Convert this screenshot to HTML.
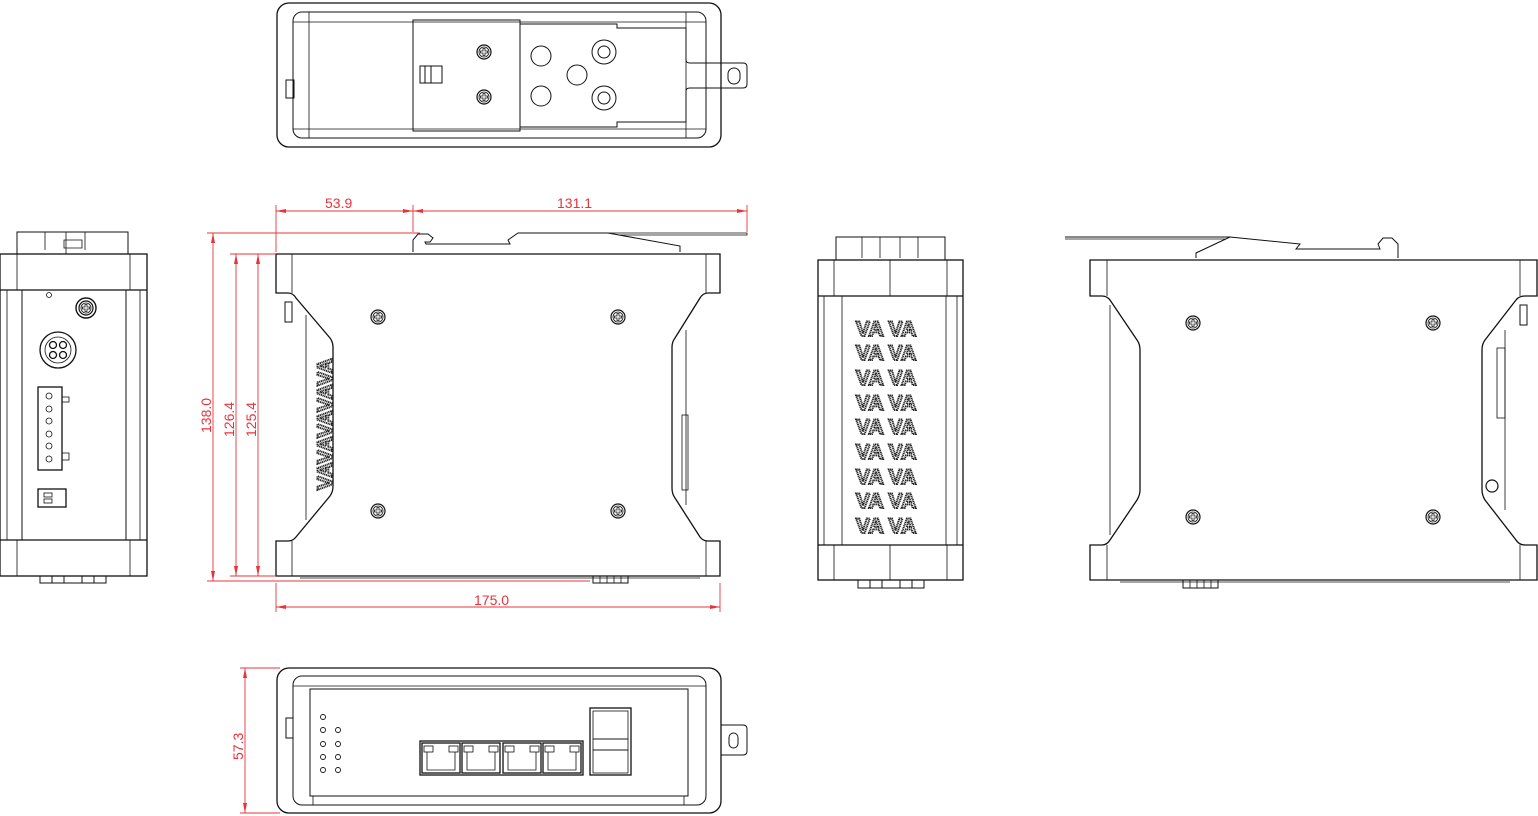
<!DOCTYPE html>
<html><head><meta charset="utf-8"><style>
html,body{margin:0;padding:0;background:#fff;}
svg{display:block;}
text{font-family:"Liberation Sans",sans-serif;}
</style></head><body>
<svg width="1538" height="816" viewBox="0 0 1538 816" xmlns="http://www.w3.org/2000/svg">
<defs>
<g id="screw"><circle r="7" fill="none" stroke="#111" stroke-width="1.2"/><circle r="5" fill="none" stroke="#111" stroke-width="0.8"/><path d="M-3.5 -1 H-1 V-3.5 H1 V-1 H3.5 V1 H1 V3.5 H-1 V1 H-3.5Z" fill="none" stroke="#111" stroke-width="0.8"/></g>
<g id="rj"><rect x="0" y="0" width="38" height="30" fill="none" stroke="#111"/><rect x="2" y="3" width="9" height="6" fill="none" stroke="#111" stroke-width="0.8"/><rect x="27" y="3" width="9" height="6" fill="none" stroke="#111" stroke-width="0.8"/><path d="M5 9 V27 H33 V9" fill="none" stroke="#111" stroke-width="0.8"/></g>
</defs>
<g fill="none" stroke="#111" stroke-width="1.3">

<!-- TOP VIEW -->
<rect x="277" y="3" width="444" height="144" rx="12"/>
<rect x="293" y="12" width="413" height="126" rx="9" stroke-width="1"/>
<line x1="309" y1="12" x2="309" y2="138" stroke-width="0.8"/>
<line x1="686" y1="12" x2="686" y2="138" stroke-width="0.8"/>
<line x1="293" y1="22" x2="706" y2="22" stroke-width="0.8"/>
<line x1="293" y1="129" x2="706" y2="129" stroke-width="0.8"/>
<rect x="413" y="20" width="107" height="111" stroke-width="1"/>
<path d="M520 24 H617 V28 H686 V60 Q686 63 690 63 H743 Q747 63 747 67 V84 Q747 88 743 88 H690 Q686 88 686 91 V122 H617 V127 H520" stroke-width="1"/>
<rect x="728" y="68" width="12" height="16" rx="6" stroke-width="1"/>
<path d="M420 66 H442 V83 H420 Z M425 66 V83 M431 66 V83" stroke-width="1"/>
<use href="#screw" x="484" y="52"/><use href="#screw" x="484" y="97"/>
<circle cx="541" cy="56" r="10" stroke-width="1"/><circle cx="541" cy="96" r="10" stroke-width="1"/><circle cx="577" cy="75" r="10" stroke-width="1"/>
<circle cx="604" cy="52" r="12" stroke-width="1"/><circle cx="604" cy="52" r="6" stroke-width="1"/>
<circle cx="604" cy="98" r="12" stroke-width="1"/><circle cx="604" cy="98" r="6" stroke-width="1"/>
<rect x="286" y="80" width="8" height="18" stroke-width="1"/>

<!-- LEFT SIDE VIEW -->
<rect x="0" y="254" width="147" height="322"/>
<line x1="0" y1="290" x2="147" y2="290"/><line x1="0" y1="540" x2="147" y2="540"/>
<line x1="22" y1="290" x2="22" y2="540" stroke-width="1"/><line x1="126" y1="290" x2="126" y2="540" stroke-width="1"/>
<line x1="17" y1="254" x2="17" y2="290" stroke-width="0.8"/><line x1="130" y1="254" x2="130" y2="290" stroke-width="0.8"/>
<line x1="17" y1="540" x2="17" y2="576" stroke-width="0.8"/><line x1="130" y1="540" x2="130" y2="576" stroke-width="0.8"/>
<line x1="7" y1="290" x2="7" y2="540" stroke-width="0.8"/><line x1="140" y1="290" x2="140" y2="540" stroke-width="0.8"/>
<path d="M17 254 V232 H128 V254" stroke-width="1"/><path d="M45 232 V250 M66 232 V254 M85 232 V250 M64 240 H82 V248 H64Z" stroke-width="0.8"/>
<path d="M40 576 V583 H106 V576 M52 576 V583 M64 576 V583 M82 576 V583 M94 576 V583" stroke-width="1"/>
<circle cx="49" cy="295" r="2.5" stroke-width="0.8"/>
<circle cx="86" cy="308" r="10" stroke-width="1.4"/><use href="#screw" x="86" y="308"/>
<circle cx="58" cy="350" r="18"/><circle cx="58" cy="350" r="13" stroke-width="0.8"/>
<circle cx="53" cy="345" r="3.5"/><circle cx="63" cy="345" r="3.5"/><circle cx="53" cy="355" r="3.5"/><circle cx="63" cy="355" r="3.5"/>
<rect x="38" y="387" width="24" height="83"/>
<g stroke-width="0.8"><circle cx="49" cy="396" r="3"/><circle cx="49" cy="409" r="3"/><circle cx="49" cy="421" r="3"/><circle cx="49" cy="434" r="3"/><circle cx="49" cy="446" r="3"/><circle cx="49" cy="459" r="3"/>
<rect x="62" y="397" width="7" height="5"/><rect x="62" y="453" width="7" height="7"/></g>
<rect x="38" y="489" width="28" height="18"/><rect x="44" y="493" width="8" height="4" stroke-width="0.8"/><rect x="44" y="499" width="8" height="4" stroke-width="0.8"/>

<!-- MAIN FRONT VIEW -->
<path d="M276 254 H720 V293 H708 Q703 293 700 298 L675 338 Q672 342 672 347 V488 Q672 494 675 498 L700 537 Q703 541 708 541 H720 V576 H276 V541 H288 Q293 541 296 537 L330 496 Q333 492 333 486 V347 Q333 342 330 338 L296 298 Q293 293 288 293 H276 Z"/>
<line x1="292" y1="254" x2="292" y2="293" stroke-width="0.8"/><line x1="292" y1="541" x2="292" y2="576" stroke-width="0.8"/>
<line x1="706" y1="254" x2="706" y2="293" stroke-width="0.8"/><line x1="706" y1="541" x2="706" y2="576" stroke-width="0.8"/>
<line x1="306" y1="315" x2="306" y2="520" stroke-width="0.8"/><line x1="686" y1="330" x2="686" y2="505" stroke-width="0.8"/>
<rect x="682" y="415" width="6" height="75" stroke-width="0.8"/>
<rect x="285" y="302" width="7" height="20" stroke-width="1"/>
<use href="#screw" x="378" y="317"/><use href="#screw" x="618" y="317"/><use href="#screw" x="378" y="511"/><use href="#screw" x="618" y="511"/>
<path d="M413 252 V240 L418 234 H428 L433 238 L430 242 H425 L426 244 H510 L508 240 L518 233 H608 L680 246 V252" stroke-width="1"/>
<path d="M608 233 H747 V235 H620" stroke-width="0.8"/>
<line x1="300" y1="578" x2="700" y2="578" stroke-width="0.8"/>
<rect x="593" y="576" width="35" height="7" stroke-width="1"/>
<path d="M600 576 V583 M607 576 V583 M614 576 V583 M621 576 V583" stroke-width="0.8"/>

<!-- SIDE VIEW 2 -->
<rect x="818" y="260" width="145" height="320"/>
<line x1="818" y1="296" x2="963" y2="296"/><line x1="818" y1="545" x2="963" y2="545"/>
<line x1="890" y1="260" x2="890" y2="296" stroke-width="0.8"/><line x1="890" y1="545" x2="890" y2="580" stroke-width="0.8"/>
<line x1="842" y1="296" x2="842" y2="545" stroke-width="0.8"/><line x1="946" y1="296" x2="946" y2="545" stroke-width="0.8"/>
<line x1="824" y1="296" x2="824" y2="545" stroke-width="0.8"/><line x1="957" y1="296" x2="957" y2="545" stroke-width="0.8"/>
<line x1="834" y1="260" x2="834" y2="296" stroke-width="0.8"/><line x1="947" y1="260" x2="947" y2="296" stroke-width="0.8"/>
<line x1="834" y1="545" x2="834" y2="580" stroke-width="0.8"/><line x1="947" y1="545" x2="947" y2="580" stroke-width="0.8"/>
<path d="M836 260 V237 H945 V260" stroke-width="1"/><path d="M862 237 V258 M880 237 V258 M900 237 V258 M918 237 V258" stroke-width="0.8"/>
<path d="M858 580 V588 H924 V580 M870 580 V588 M882 580 V588 M900 580 V588 M912 580 V588" stroke-width="1"/>

<!-- RIGHT VIEW -->
<path d="M1090 260 H1537 V296 H1525 Q1519 296 1516 300 L1485 340 Q1482 344 1482 350 V490 Q1482 495 1485 500 L1516 540 Q1519 545 1525 545 H1537 V580 H1090 V545 H1102 Q1107 545 1110 540 L1137 500 Q1140 495 1140 490 V350 Q1140 344 1137 340 L1110 300 Q1107 296 1102 296 H1090 Z"/>
<line x1="1107" y1="260" x2="1107" y2="296" stroke-width="0.8"/><line x1="1107" y1="545" x2="1107" y2="580" stroke-width="0.8"/>
<line x1="1520" y1="260" x2="1520" y2="296" stroke-width="0.8"/><line x1="1520" y1="545" x2="1520" y2="580" stroke-width="0.8"/>
<line x1="1110" y1="305" x2="1110" y2="535" stroke-width="0.8"/><line x1="1505" y1="330" x2="1505" y2="510" stroke-width="0.8"/>
<rect x="1497" y="348" width="8" height="70" stroke-width="0.8"/>
<circle cx="1492" cy="486" r="6" stroke-width="1.2"/>
<rect x="1520" y="305" width="7" height="20" stroke-width="1"/>
<use href="#screw" x="1193" y="323"/><use href="#screw" x="1433" y="323"/><use href="#screw" x="1193" y="517"/><use href="#screw" x="1433" y="517"/>
<path d="M1065 237 H1230 L1300 244 L1296 249 H1380 L1378 244 L1383 238 H1392 L1398 244 V258 M1196 258 V253 L1230 237" stroke-width="1"/>
<path d="M1065 239 H1225" stroke-width="0.8"/>
<line x1="1120" y1="582" x2="1510" y2="582" stroke-width="0.8"/>
<rect x="1183" y="580" width="35" height="8" stroke-width="1"/>
<path d="M1190 580 V588 M1197 580 V588 M1204 580 V588 M1211 580 V588" stroke-width="0.8"/>

<!-- BOTTOM VIEW -->
<rect x="277" y="668" width="444" height="145" rx="12"/>
<rect x="293" y="676" width="413" height="129" rx="9" stroke-width="1"/>
<rect x="310" y="689" width="378" height="107" stroke-width="1"/>
<line x1="293" y1="686" x2="706" y2="686" stroke-width="0.8"/>
<line x1="313" y1="796" x2="313" y2="805" stroke-width="0.8"/><line x1="684" y1="796" x2="684" y2="805" stroke-width="0.8"/>
<path d="M721 725 H743 Q747 725 747 729 V751 Q747 755 743 755 H721" stroke-width="1"/>
<rect x="729" y="733" width="9" height="15" rx="4.5" stroke-width="1"/>
<rect x="286" y="718" width="7" height="20" stroke-width="1"/>
<g stroke-width="0.9">
<circle cx="323" cy="717" r="2.5"/><circle cx="323" cy="730" r="2.5"/><circle cx="323" cy="744" r="2.5"/><circle cx="323" cy="757" r="2.5"/><circle cx="323" cy="770" r="2.5"/>
<circle cx="338" cy="730" r="2.5"/><circle cx="338" cy="744" r="2.5"/><circle cx="338" cy="757" r="2.5"/><circle cx="338" cy="770" r="2.5"/>
</g>
<rect x="420" y="741" width="163" height="34"/>
<use href="#rj" x="422" y="743"/><use href="#rj" x="462" y="743"/><use href="#rj" x="503" y="743"/><use href="#rj" x="543" y="743"/>
<rect x="590" y="708" width="41" height="67"/>
<rect x="593" y="711" width="35" height="28" stroke-width="0.8"/><rect x="593" y="750" width="35" height="23" stroke-width="0.8"/>
<rect x="593" y="739" width="35" height="11" stroke-width="0.8"/>
</g>

<!-- VAVA pattern -->
<g font-size="21" font-weight="bold" fill="#fff" stroke="#222" stroke-width="2" stroke-dasharray="1.2 0.6">
<text x="856" y="336">VA VA</text><text x="856" y="360">VA VA</text><text x="856" y="385">VA VA</text>
<text x="856" y="410">VA VA</text><text x="856" y="434">VA VA</text><text x="856" y="459">VA VA</text>
<text x="856" y="484">VA VA</text><text x="856" y="508">VA VA</text><text x="856" y="533">VA VA</text>
</g>
<g font-size="21" font-weight="bold" fill="#fff" stroke="#222" stroke-width="2" stroke-dasharray="1.2 0.6">
<text transform="translate(332,490) rotate(-90)">VAVAVAVAVA</text>
</g>

<!-- DIMENSIONS -->
<g stroke="#e8333a" stroke-width="0.9" fill="none">
<line x1="276" y1="205" x2="276" y2="252"/><line x1="413" y1="205" x2="413" y2="232"/><line x1="747" y1="205" x2="747" y2="232"/>
<line x1="276" y1="211" x2="413" y2="211"/><line x1="413" y1="211" x2="747" y2="211"/>
<line x1="207" y1="233" x2="420" y2="233"/><line x1="207" y1="581" x2="590" y2="581"/>
<line x1="230" y1="254" x2="276" y2="254"/><line x1="230" y1="576" x2="276" y2="576"/>
<line x1="213" y1="233" x2="213" y2="581"/><line x1="236" y1="254" x2="236" y2="576"/><line x1="258" y1="254" x2="258" y2="576"/>
<line x1="276" y1="583" x2="276" y2="612"/><line x1="720" y1="583" x2="720" y2="612"/>
<line x1="276" y1="607" x2="720" y2="607"/>
<line x1="240" y1="668" x2="280" y2="668"/><line x1="240" y1="813" x2="280" y2="813"/>
<line x1="245" y1="668" x2="245" y2="813"/>
</g>
<g fill="#e8333a">
<path d="M276 211 l10 -2 v4z"/><path d="M413 211 l-10 -2 v4z"/><path d="M413 211 l10 -2 v4z"/><path d="M747 211 l-10 -2 v4z"/>
<path d="M213 233 l-2 10 h4z"/><path d="M213 581 l-2 -10 h4z"/>
<path d="M236 254 l-2 10 h4z"/><path d="M236 576 l-2 -10 h4z"/>
<path d="M258 254 l-2 10 h4z"/><path d="M258 576 l-2 -10 h4z"/>
<path d="M276 607 l10 -2 v4z"/><path d="M720 607 l-10 -2 v4z"/>
<path d="M245 668 l-2 10 h4z"/><path d="M245 813 l-2 -10 h4z"/>
</g>
<g fill="#e8333a" font-size="14">
<text x="325" y="208">53.9</text>
<text x="557" y="208">131.1</text>
<text x="474" y="605">175.0</text>
<text transform="translate(211,433) rotate(-90)">138.0</text>
<text transform="translate(234,437) rotate(-90)">126.4</text>
<text transform="translate(256,437) rotate(-90)">125.4</text>
<text transform="translate(243,760) rotate(-90)">57.3</text>
</g>
</svg>
</body></html>
